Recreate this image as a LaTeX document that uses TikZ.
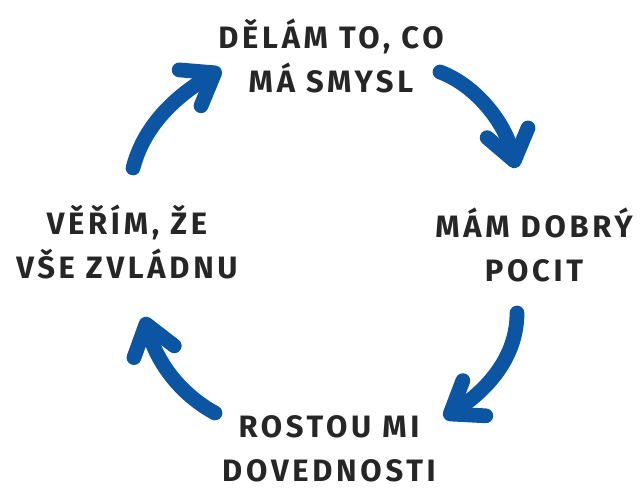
\documentclass[tikz,border=0pt]{standalone}
\usepackage{fontspec}
\setmainfont{Fira Sans}[LetterSpace=12]
\usepackage{xcolor}
\usetikzlibrary{arrows.meta}
\definecolor{cycleblue}{HTML}{0B55A3}
\definecolor{ink}{HTML}{262626}

\begin{document}
\begin{tikzpicture}[
      x=0.025cm, y=-0.025cm,
      label/.style={align=center, font=\fontsize{22}{31}\selectfont\bfseries, text=ink, inner sep=0pt},
      arr/.style={cycleblue, line width=10.5pt, line cap=round, -{Straight Barb[round, length=0.72cm, width=1.05cm]}}
  ]
    \useasboundingbox (0,0) rectangle (640,490);
    \node[label] (sense) at (331,56) {DĚLÁM TO, CO\\MÁ SMYSL};
    \node[label] (feel) at (534,245) {MÁM DOBRÝ\\POCIT};
    \node[label] (grow) at (329,449) {ROSTOU MI\\DOVEDNOSTI};
    \node[label] (believe) at (127,242) {VĚŘÍM, ŽE\\VŠE ZVLÁDNU};
    % arrow ends
    \coordinate (s1) at (133,168); \coordinate (e1) at (221,69);
    \coordinate (s2) at (440,72);  \coordinate (e2) at (516,168);
    \coordinate (s3) at (517,313); \coordinate (e3) at (444,418);
    \coordinate (s4) at (215,413); \coordinate (e4) at (144,317);
    \draw[arr] (s1) .. controls (145,122) and (180,94) .. (e1);
    \draw[arr] (s2) .. controls (475,85) and (505,122) .. (e2);
    \draw[arr] (s3) .. controls (517,355) and (490,388) .. (e3);
    \draw[arr] (s4) .. controls (182,395) and (158,365) .. (e4);
  \end{tikzpicture}
\end{document}
